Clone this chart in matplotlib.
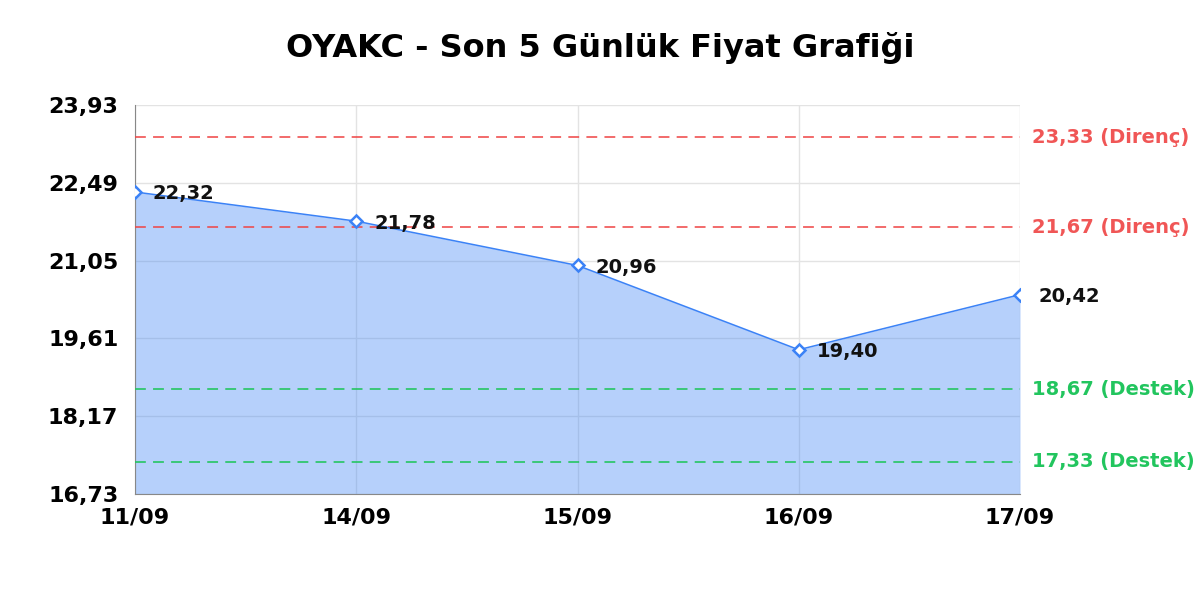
import matplotlib.pyplot as plt

# Data
dates = ["11/09", "14/09", "15/09", "16/09", "17/09"]
prices = [22.32, 21.78, 20.96, 19.40, 20.42]
resistance = [23.33, 21.67]
support = [18.67, 17.33]
y_ticks = [16.73, 18.17, 19.61, 21.05, 22.49, 23.93]

blue = "#3b82f6"
red = "#ef4444"
green = "#22c55e"

def fmt(v):
    return f"{v:.2f}".replace(".", ",")

fig = plt.figure(figsize=(12, 6), dpi=100)
ax = fig.add_axes([0.1125, 0.1767, 0.7375, 0.6483])

x = list(range(len(dates)))
ax.fill_between(x, prices, y_ticks[0], color=blue, alpha=0.37, linewidth=0, zorder=2)
ax.plot(x, prices, color=blue, linewidth=1.1, marker="D", markersize=6.5,
        markerfacecolor="white", markeredgecolor=blue, markeredgewidth=1.8, zorder=4)

for xi, p in zip(x, prices):
    ax.annotate(fmt(p), (xi, p), xytext=(18, -2), textcoords="offset pixels",
                ha="left", va="center", fontsize=14, fontweight="bold", color="#111111", zorder=5)

trans = ax.get_yaxis_transform()
for r in resistance:
    ax.axhline(r, color=red, linestyle=(0, (6, 4)), linewidth=1.3, alpha=0.85, zorder=3)
    ax.text(1.014, r, f"{fmt(r)} (Direnç)", transform=trans, ha="left", va="center",
            fontsize=14, fontweight="bold", color=red, alpha=0.9)
for s in support:
    ax.axhline(s, color=green, linestyle=(0, (6, 4)), linewidth=1.3, alpha=0.9, zorder=3)
    ax.text(1.014, s, f"{fmt(s)} (Destek)", transform=trans, ha="left", va="center",
            fontsize=14, fontweight="bold", color=green)

ax.set_xlim(0, len(dates) - 1)
ax.set_ylim(y_ticks[0], y_ticks[-1])
ax.set_xticks(x)
ax.set_xticklabels(dates, fontsize=16, fontweight="bold")
ax.set_yticks(y_ticks)
ax.set_yticklabels([fmt(t) for t in y_ticks], fontsize=16, fontweight="bold")
ax.tick_params(axis="both", length=0)
ax.tick_params(axis="x", pad=10)
ax.tick_params(axis="y", pad=12)

ax.grid(True, color="#e3e3e3", linewidth=1, zorder=1)
ax.set_axisbelow(True)
for side in ["top", "right"]:
    ax.spines[side].set_visible(False)
for side in ["left", "bottom"]:
    ax.spines[side].set_color("#888888")

fig.suptitle("OYAKC - Son 5 Günlük Fiyat Grafiği", y=0.92, va="center",
             fontsize=23, fontweight="bold")

fig.savefig("out.png", dpi=100)
